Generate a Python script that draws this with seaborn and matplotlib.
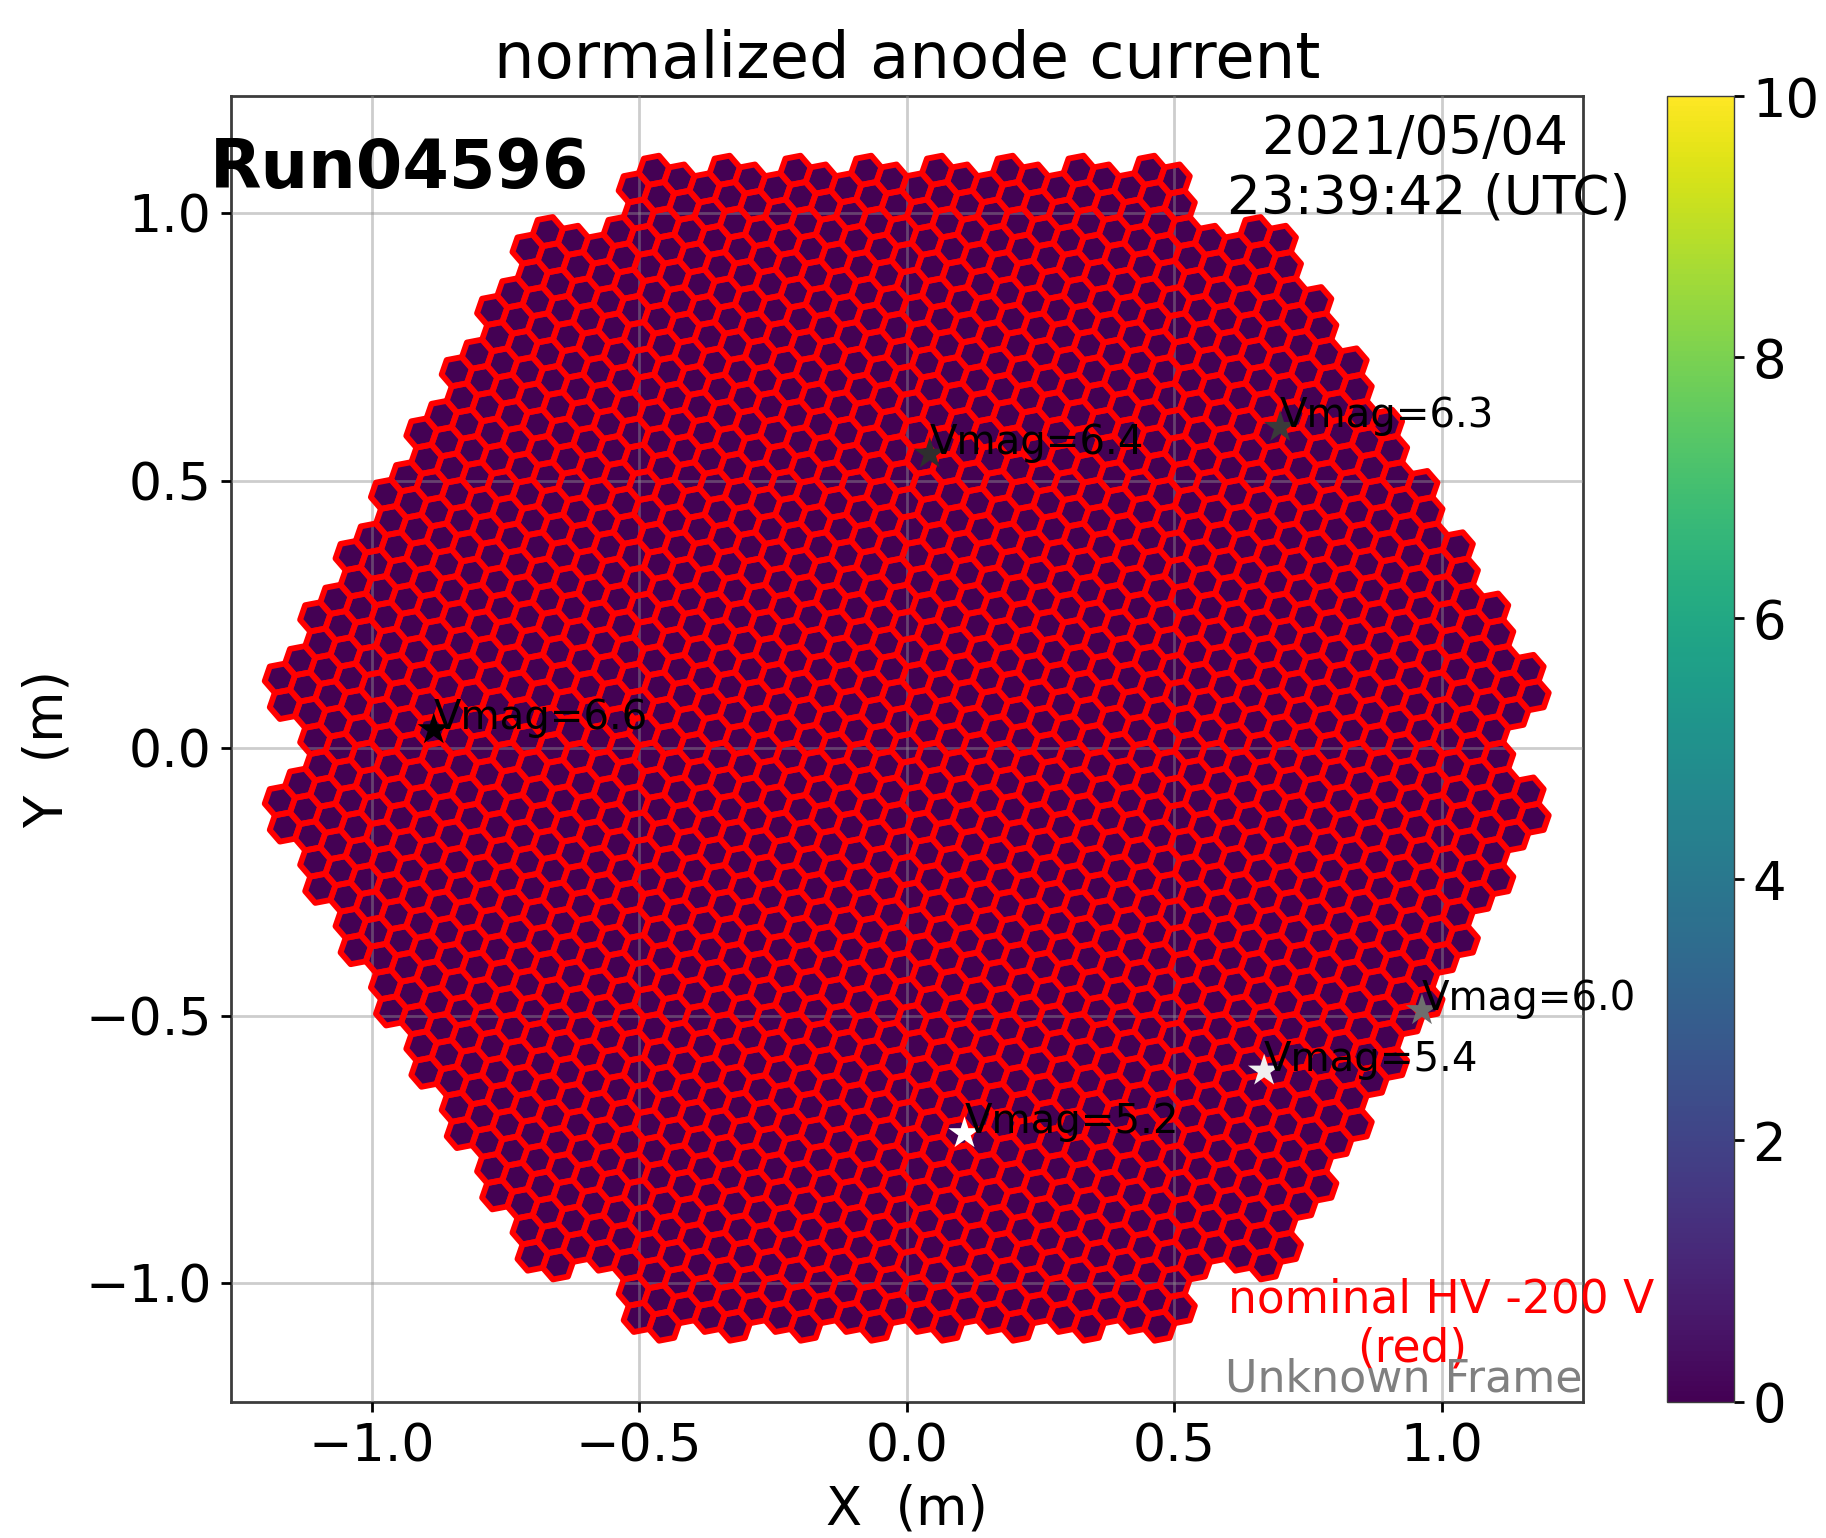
import numpy as np
import pandas as pd
import seaborn as sns
import matplotlib.pyplot as plt
from matplotlib.cm import ScalarMappable
from matplotlib.colors import Normalize

# module rows of the camera, from the bottom row to the top row
module_rows = [-9, -8, -7, -6, -5, -4, -3, -2, -1, 0, 1, 2, 3, 4, 5, 6, 7, 8, 9]
row_half_widths = [3.5, 5, 5.5, 6, 6.5, 7, 7.5, 8, 8.5, 8,
                   8.5, 8, 7.5, 7, 6.5, 6, 5.5, 5, 3.5]
pixel_spacing = 0.05
anode_current = 0.02

star_x = [-0.884, 0.043, 0.698, 0.963, 0.668, 0.108]
star_y = [0.035, 0.55, 0.60, -0.49, -0.603, -0.72]
star_vmag = [6.6, 6.4, 6.3, 6.0, 5.4, 5.2]
star_gray = ['#000000', '#2e2e2e', '#3a3a3a', '#6e6e6e', '#f0f0f0', '#ffffff']

cbar_ticks = [0, 2, 4, 6, 8, 10]
axis_ticks = [-1.0, -0.5, 0.0, 0.5, 1.0]

sns.set_theme(style='ticks', rc={'axes.linewidth': 2.0,
                                 'axes.edgecolor': '#3c3c3c',
                                 'text.color': 'black',
                                 'axes.labelcolor': 'black',
                                 'xtick.color': 'black',
                                 'ytick.color': 'black',
                                 'xtick.major.size': 7,
                                 'ytick.major.size': 7,
                                 'xtick.major.width': 2.0,
                                 'ytick.major.width': 2.0})
plt.rcParams['font.family'] = ['DejaVu Sans']

W, H = 1826, 1538
fig = plt.figure(figsize=(W / 100, H / 100), dpi=100, facecolor='white')
ax = fig.add_axes([231 / W, 1 - 1401.5 / H, (1583 - 231) / W, (1401.5 - 96) / H])
cax = fig.add_axes([1667 / W, 1 - 1401.5 / H, (1734 - 1667) / W, (1401.5 - 96) / H])

# seven pixels per module, pixel lattice is turned 19.1 deg to the module lattice
tilt = np.deg2rad(-19.1)
offsets = [(0.0, 0.0)]
for k in range(6):
    angle = tilt + k * np.pi / 3
    offsets.append((pixel_spacing * np.cos(angle), pixel_spacing * np.sin(angle)))
module_pitch = pixel_spacing * np.sqrt(7)

pix_x, pix_y = [], []
for row, half in zip(module_rows, row_half_widths):
    for col in np.arange(-half, half + 1):
        for dx, dy in offsets:
            pix_x.append(col * module_pitch + dx)
            pix_y.append(row * module_pitch * np.sqrt(3) / 2 + dy)

pixels = pd.DataFrame({'x': pix_x, 'y': pix_y, 'current': anode_current})

# marker size from pixel spacing, axes are 535 px per metre
radius_pt = pixel_spacing * 535 / np.sqrt(3) * 0.72
hex_size = (2 * radius_pt) ** 2
hex_marker = (6, 0, -19.1)

sns.scatterplot(data=pixels, x='x', y='y', hue='current', palette='viridis',
                hue_norm=(0, 10), marker=hex_marker, s=hex_size, linewidth=0,
                legend=False, ax=ax, zorder=2)
sns.scatterplot(data=pixels, x='x', y='y', marker=hex_marker, s=hex_size,
                facecolor='none', edgecolor='#ff0000', linewidth=4.2,
                legend=False, ax=ax, zorder=3)

ax.set_xlim(-1.263, 1.264)
ax.set_ylim(-1.221, 1.219)
ax.set_xticks(axis_ticks)
ax.set_yticks(axis_ticks)
ax.grid(True, color='#909090', alpha=0.45, linewidth=2.0, zorder=4)
ax.set_axisbelow(False)
ax.tick_params(labelsize=37.5)
ax.tick_params(axis='x', pad=8)
ax.tick_params(axis='y', pad=7)
ax.set_xlabel('X  (m)', fontsize=38, labelpad=8)
ax.set_ylabel('Y  (m)', fontsize=38, labelpad=8)
ax.set_title('normalized anode current', fontsize=46.1, pad=13)

stars = pd.DataFrame({'x': star_x, 'y': star_y, 'vmag': [str(v) for v in star_vmag]})
sns.scatterplot(data=stars, x='x', y='y', hue='vmag', palette=star_gray, marker='*',
                s=600, linewidth=0, legend=False, ax=ax, zorder=5)
for x, y, v in zip(star_x, star_y, star_vmag):
    ax.text(x, y, 'Vmag=%.1f' % v, fontsize=29.0, color='black', zorder=6, clip_on=False)

ax.text(-1.303, 1.047, 'Run04596', fontsize=48.2, fontweight='bold', color='black', zorder=7)
ax.text(0.950, 1.11, '2021/05/04', fontsize=38.3, ha='center', zorder=7)
ax.text(0.975, 1.0, '23:39:42 (UTC)', fontsize=38.3, ha='center', zorder=7)
ax.text(0.999, -1.054, 'nominal HV -200 V', fontsize=32.8, color='red', ha='center',
        zorder=7, clip_on=False)
ax.text(0.945, -1.146, '(red)', fontsize=32.8, color='red', ha='center', zorder=7)
ax.text(1.263, -1.202, 'Unknown Frame', fontsize=31.9, color='gray', ha='right', zorder=7)

cbar = fig.colorbar(ScalarMappable(Normalize(0, 10), 'viridis'), cax=cax)
cbar.set_ticks(cbar_ticks)
cbar.ax.tick_params(labelsize=38, pad=6)
cbar.outline.set_linewidth(1.0)

fig.savefig('out.png', dpi=100, facecolor='white')
